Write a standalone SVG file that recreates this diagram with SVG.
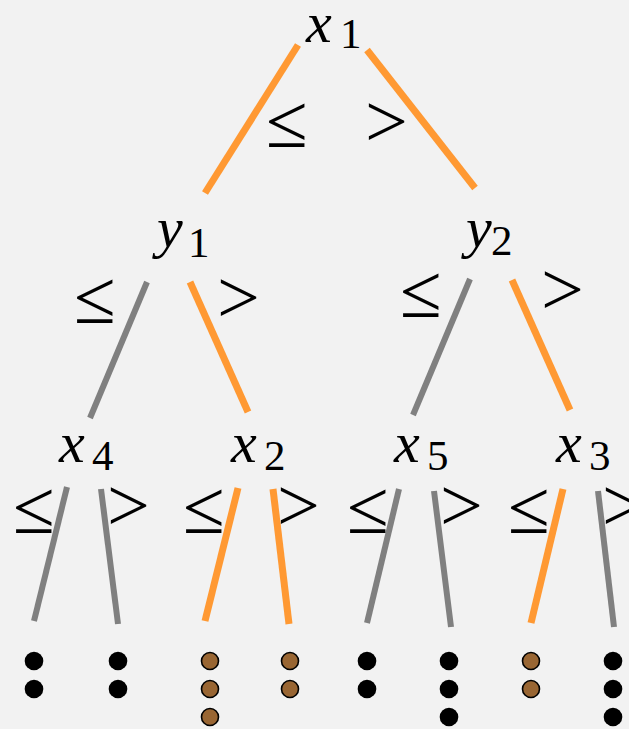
<svg xmlns="http://www.w3.org/2000/svg" width="629" height="729" viewBox="0 0 629 729">
<style>
.bg{fill:#f2f2f2}
.v{font-family:"Liberation Serif","Times New Roman",serif;font-style:italic;font-size:58px;fill:#000}
.s{font-family:"Liberation Serif","Times New Roman",serif;font-size:43px;fill:#000}
.op{font-family:"Liberation Serif","Times New Roman",serif;font-size:76px;fill:#000}
.on{stroke:#ff9933;stroke-width:7;fill:none}
.off{stroke:#808080;stroke-width:6;fill:none}
.blk{fill:#000}
.brn{fill:#996633;stroke:#000;stroke-width:1.6}
</style>
<rect class="bg" x="0" y="0" width="629" height="729"/>
<g id="connectors">
  <line class="on" x1="298" y1="45" x2="205" y2="193"/>
  <line class="on" x1="367" y1="50" x2="475" y2="188"/>
  <line class="off" x1="147" y1="282" x2="90" y2="418"/>
  <line class="on" x1="190" y1="282" x2="248" y2="412"/>
  <line class="off" x1="470" y1="279" x2="413" y2="415"/>
  <line class="on" x1="512" y1="280" x2="570" y2="410"/>
  <line class="off" x1="67" y1="487" x2="34" y2="621"/>
  <line class="off" x1="101" y1="489" x2="118" y2="624"/>
  <line class="on" x1="238" y1="488" x2="205" y2="621"/>
  <line class="on" x1="273" y1="489" x2="289" y2="624"/>
  <line class="off" x1="399" y1="489" x2="367" y2="623"/>
  <line class="off" x1="434" y1="491" x2="451" y2="627"/>
  <line class="on" x1="563" y1="489" x2="531" y2="623"/>
  <line class="off" x1="598" y1="491" x2="614" y2="627"/>
  <g id="edge-labels">
    <text class="op" x="266" y="147">≤</text>
    <text class="op" x="365" y="147">&gt;</text>
    <text class="op" x="74" y="323">≤</text>
    <text class="op" x="217" y="323">&gt;</text>
    <text class="op" x="400" y="317">≤</text>
    <text class="op" x="541" y="315">&gt;</text>
    <text class="op" x="13" y="533">≤</text>
    <text class="op" x="107" y="531">&gt;</text>
    <text class="op" x="183" y="533">≤</text>
    <text class="op" x="277" y="531">&gt;</text>
    <text class="op" x="347" y="533">≤</text>
    <text class="op" x="440" y="531">&gt;</text>
    <text class="op" x="508" y="533">≤</text>
    <text class="op" x="602" y="531">&gt;</text>
  </g>
</g>
<g id="node-x1"><text class="v" x="306" y="42">x</text><text class="s" x="340" y="48">1</text></g>
<g id="node-y1"><text class="v" x="157" y="247">y</text><text class="s" x="188" y="257">1</text></g>
<g id="node-y2"><text class="v" x="466" y="247">y</text><text class="s" x="491" y="255">2</text></g>
<g id="node-x4"><text class="v" x="59" y="462">x</text><text class="s" x="92" y="470">4</text></g>
<g id="node-x2"><text class="v" x="231" y="462">x</text><text class="s" x="264" y="470">2</text></g>
<g id="node-x5"><text class="v" x="394" y="462">x</text><text class="s" x="427" y="470">5</text></g>
<g id="node-x3"><text class="v" x="556" y="462">x</text><text class="s" x="589" y="470">3</text></g>
<g id="leaf-1"><circle class="blk" cx="34" cy="661" r="9.3"/><circle class="blk" cx="34" cy="689" r="9.3"/></g>
<g id="leaf-2"><circle class="blk" cx="118" cy="661" r="9.3"/><circle class="blk" cx="118" cy="689" r="9.3"/></g>
<g id="leaf-3"><circle class="brn" cx="210" cy="661" r="8.5"/><circle class="brn" cx="210" cy="689" r="8.5"/><circle class="brn" cx="210" cy="717" r="8.5"/></g>
<g id="leaf-4"><circle class="brn" cx="290" cy="661" r="8.5"/><circle class="brn" cx="290" cy="689" r="8.5"/></g>
<g id="leaf-5"><circle class="blk" cx="367" cy="661" r="9.3"/><circle class="blk" cx="367" cy="689" r="9.3"/></g>
<g id="leaf-6"><circle class="blk" cx="449" cy="661" r="9.3"/><circle class="blk" cx="449" cy="689" r="9.3"/><circle class="blk" cx="449" cy="717" r="9.3"/></g>
<g id="leaf-7"><circle class="brn" cx="531" cy="661" r="8.5"/><circle class="brn" cx="531" cy="689" r="8.5"/></g>
<g id="leaf-8"><circle class="blk" cx="613" cy="661" r="9.3"/><circle class="blk" cx="613" cy="689" r="9.3"/><circle class="blk" cx="613" cy="717" r="9.3"/></g>
</svg>
